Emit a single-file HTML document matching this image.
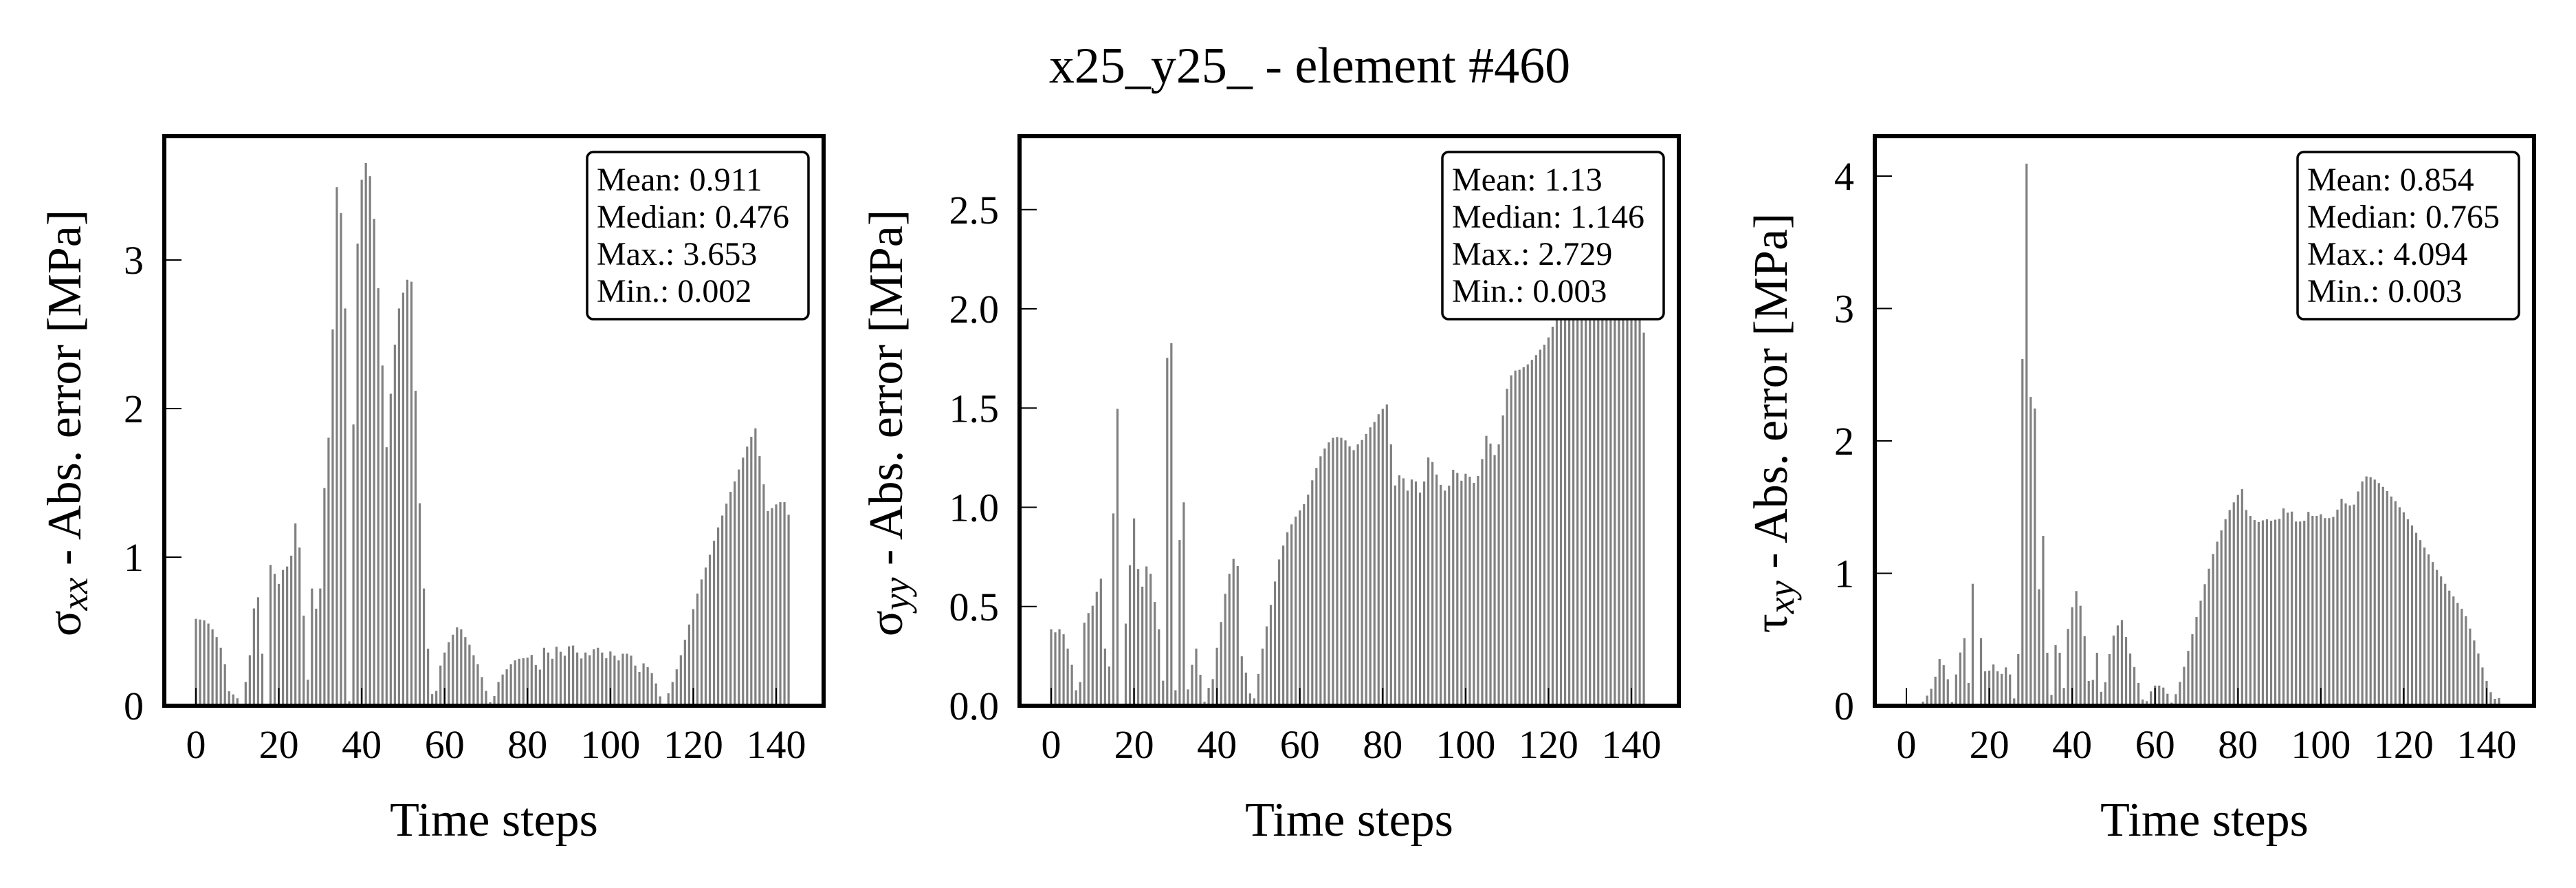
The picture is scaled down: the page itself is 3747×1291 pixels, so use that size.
<!DOCTYPE html>
<html><head><meta charset="utf-8">
<style>
html,body{margin:0;padding:0;background:#fff;}
svg{display:block;font-family:"Liberation Serif","DejaVu Serif",serif;}
</style></head>
<body>
<svg id="chart" width="3747" height="1291" viewBox="0 0 3747 1291" xmlns="http://www.w3.org/2000/svg">
<rect x="0" y="0" width="3747" height="1291" fill="#fff"/>
<text x="1905" y="120" font-size="74" text-anchor="middle">x25_y25_ - element #460</text>
</svg>
<script>
const xTicks = [0,20,40,60,80,100,120,140];
const sxxValues = [0.585,0.58,0.575,0.553,0.514,0.462,0.39,0.28,0.097,0.076,0.05,0.013,0.16,0.34,0.655,0.73,0.35,0.005,0.948,0.888,0.82,0.914,0.937,1.01,1.227,1.065,0.606,0.175,0.789,0.653,0.789,1.465,1.804,2.533,3.49,3.316,2.674,0.03,1.893,3.11,3.54,3.653,3.564,3.277,2.81,2.29,1.74,2.10,2.43,2.674,2.78,2.867,2.854,2.12,1.363,0.789,0.384,0.078,0.10,0.27,0.358,0.428,0.478,0.527,0.514,0.462,0.41,0.34,0.28,0.193,0.10,0.023,0.065,0.16,0.21,0.245,0.28,0.305,0.316,0.32,0.324,0.342,0.274,0.243,0.39,0.358,0.316,0.397,0.363,0.337,0.40,0.405,0.358,0.318,0.358,0.34,0.38,0.39,0.358,0.32,0.365,0.337,0.305,0.35,0.35,0.337,0.27,0.227,0.285,0.26,0.22,0.15,0.063,0.013,0.084,0.16,0.245,0.34,0.444,0.546,0.65,0.755,0.85,0.93,1.016,1.11,1.20,1.28,1.36,1.44,1.51,1.59,1.67,1.744,1.81,1.867,1.68,1.49,1.31,1.33,1.355,1.37,1.37,1.285];
const syyValues = [0.385,0.37,0.385,0.36,0.288,0.206,0.078,0.119,0.418,0.467,0.504,0.574,0.64,0.288,0.198,0.969,1.496,0.005,0.414,0.708,0.944,0.689,0.60,0.702,0.665,0.523,0.385,0.126,1.753,1.827,0.078,0.835,1.025,0.082,0.206,0.288,0.156,0.02,0.09,0.134,0.292,0.422,0.564,0.665,0.74,0.704,0.249,0.167,0.062,0.037,0.16,0.288,0.40,0.508,0.626,0.737,0.807,0.874,0.914,0.953,0.984,1.016,1.064,1.136,1.198,1.257,1.296,1.327,1.35,1.354,1.35,1.337,1.307,1.288,1.317,1.339,1.37,1.403,1.43,1.469,1.496,1.518,1.317,1.11,1.161,1.146,1.084,1.14,1.13,1.074,1.13,1.251,1.228,1.165,1.113,1.084,1.109,1.189,1.173,1.134,1.169,1.154,1.123,1.158,1.243,1.36,1.321,1.263,1.317,1.463,1.597,1.665,1.689,1.693,1.706,1.72,1.743,1.767,1.794,1.819,1.856,1.91,2.0,2.1,2.2,2.3,2.4,2.5,2.55,2.6,2.65,2.7,2.729,2.7,2.65,2.6,2.55,2.5,2.4,2.3,2.2,2.1,2.0,1.88];
const txyValues = [0.003,0.004,0.004,0.005,0.03,0.076,0.128,0.219,0.353,0.306,0.20,0.026,0.236,0.402,0.51,0.172,0.921,0.015,0.51,0.26,0.265,0.312,0.26,0.24,0.289,0.236,0.055,0.39,2.618,4.094,2.332,2.245,0.88,1.283,0.40,0.082,0.458,0.40,0.134,0.58,0.743,0.866,0.755,0.525,0.187,0.195,0.40,0.105,0.178,0.39,0.53,0.606,0.647,0.519,0.394,0.292,0.172,0.047,0.035,0.108,0.152,0.152,0.137,0.09,0.023,0.087,0.18,0.294,0.414,0.54,0.67,0.793,0.918,1.035,1.146,1.239,1.324,1.408,1.478,1.536,1.592,1.636,1.478,1.434,1.402,1.388,1.40,1.408,1.397,1.405,1.411,1.49,1.458,1.466,1.391,1.391,1.397,1.464,1.434,1.434,1.446,1.417,1.417,1.426,1.481,1.563,1.528,1.513,1.519,1.618,1.694,1.732,1.726,1.708,1.682,1.653,1.621,1.58,1.545,1.499,1.461,1.408,1.362,1.306,1.251,1.195,1.143,1.085,1.026,0.977,0.921,0.869,0.825,0.776,0.732,0.676,0.583,0.493,0.394,0.289,0.187,0.102,0.052,0.058];
const sxxTicks = [0,1,2,3];
const syyTicks = [0,0.5,1,1.5,2,2.5];
const txyTicks = [0,1,2,3,4];
const sxxStats = ["Mean: 0.911","Median: 0.476","Max.: 3.653","Min.: 0.002"];
const syyStats = ["Mean: 1.13","Median: 1.146","Max.: 2.729","Min.: 0.003"];
const txyStats = ["Mean: 0.854","Median: 0.765","Max.: 4.094","Min.: 0.003"];

const NS = "http://www.w3.org/2000/svg";
const svg = document.getElementById('chart');
function mk(tag, attrs, parent){
  const e = document.createElementNS(NS, tag);
  for (const k in attrs) e.setAttribute(k, attrs[k]);
  (parent||svg).appendChild(e);
  return e;
}
const TOP = 198, BOT = 1026, W = 959;
const panels = [
  {left:239, vals:sxxValues, ticks:sxxTicks, unit:216, dec:0, stats:sxxStats, sym:"σ", sub:"xx", labOff:144, name:"sigma-xx"},
  {left:1483, vals:syyValues, ticks:syyTicks, unit:288.5, dec:1, stats:syyStats, sym:"σ", sub:"yy", labOff:193, name:"sigma-yy"},
  {left:2727, vals:txyValues, ticks:txyTicks, unit:192.5, dec:0, stats:txyStats, sym:"τ", sub:"xy", labOff:150, name:"tau-xy"}
];
panels.forEach(p => {
  const g = mk('g', {});
  
  
  const xs = v => p.left + 46 + v * (844/140);
  const ys = v => BOT - v * p.unit;
  p.vals.forEach((v, i) => {
    const r = mk('rect', {x: xs(i) - 1.6, y: ys(v), width: 3.2, height: Math.max(0, BOT - ys(v)), fill: '#808080'}, g);
    
    
  });
  xTicks.forEach(t => {
    mk('line', {x1: xs(t), x2: xs(t), y1: BOT, y2: BOT - 26, stroke: '#000', 'stroke-width': 2}, g);
    const tx = mk('text', {x: xs(t), y: 1102, 'font-size': 58, 'text-anchor': 'middle'}, g);
    tx.textContent = t;
    
    
  });
  p.ticks.forEach(t => {
    mk('line', {x1: p.left, x2: p.left + 25, y1: ys(t), y2: ys(t), stroke: '#000', 'stroke-width': 2}, g);
    const ty = mk('text', {x: p.left - 30, y: ys(t) + 20, 'font-size': 58, 'text-anchor': 'end'}, g);
    ty.textContent = t.toFixed(p.dec);
    
    
  });
  const lx = p.left + 615, lw = 322;
  const lr = mk('rect', {x: lx, y: 221, width: lw, height: 243, rx: 9, ry: 9, fill: '#fff', stroke: '#000', 'stroke-width': 3.5}, g);
  
  
  p.stats.forEach((s, i) => {
    const lt = mk('text', {x: lx + 14, y: 277 + i * 54, 'font-size': 48}, g);
    lt.textContent = s;
    
    
  });
  const fr = mk('rect', {x: p.left, y: TOP, width: W, height: BOT - TOP, fill: 'none', stroke: '#000', 'stroke-width': 6}, g);
  
  
  const xt = mk('text', {x: p.left + W/2, y: 1215, 'font-size': 70, 'text-anchor': 'middle'}, g);
  xt.textContent = 'Time steps';
  
  
  const cx = p.left - p.labOff + 22, cy = 615;
  const yt = mk('text', {x: cx, y: cy, 'font-size': 70, 'text-anchor': 'middle', transform: `rotate(-90 ${cx} ${cy})`}, g);
  
  
  const t1 = mk('tspan', {}, yt); t1.textContent = p.sym;
  const t2 = mk('tspan', {'font-style': 'italic', 'font-size': 54, dy: 10}, yt); t2.textContent = p.sub;
  const t3 = mk('tspan', {dy: -10}, yt); t3.textContent = ' - Abs. error [MPa]';
});
</script>
</body></html>
